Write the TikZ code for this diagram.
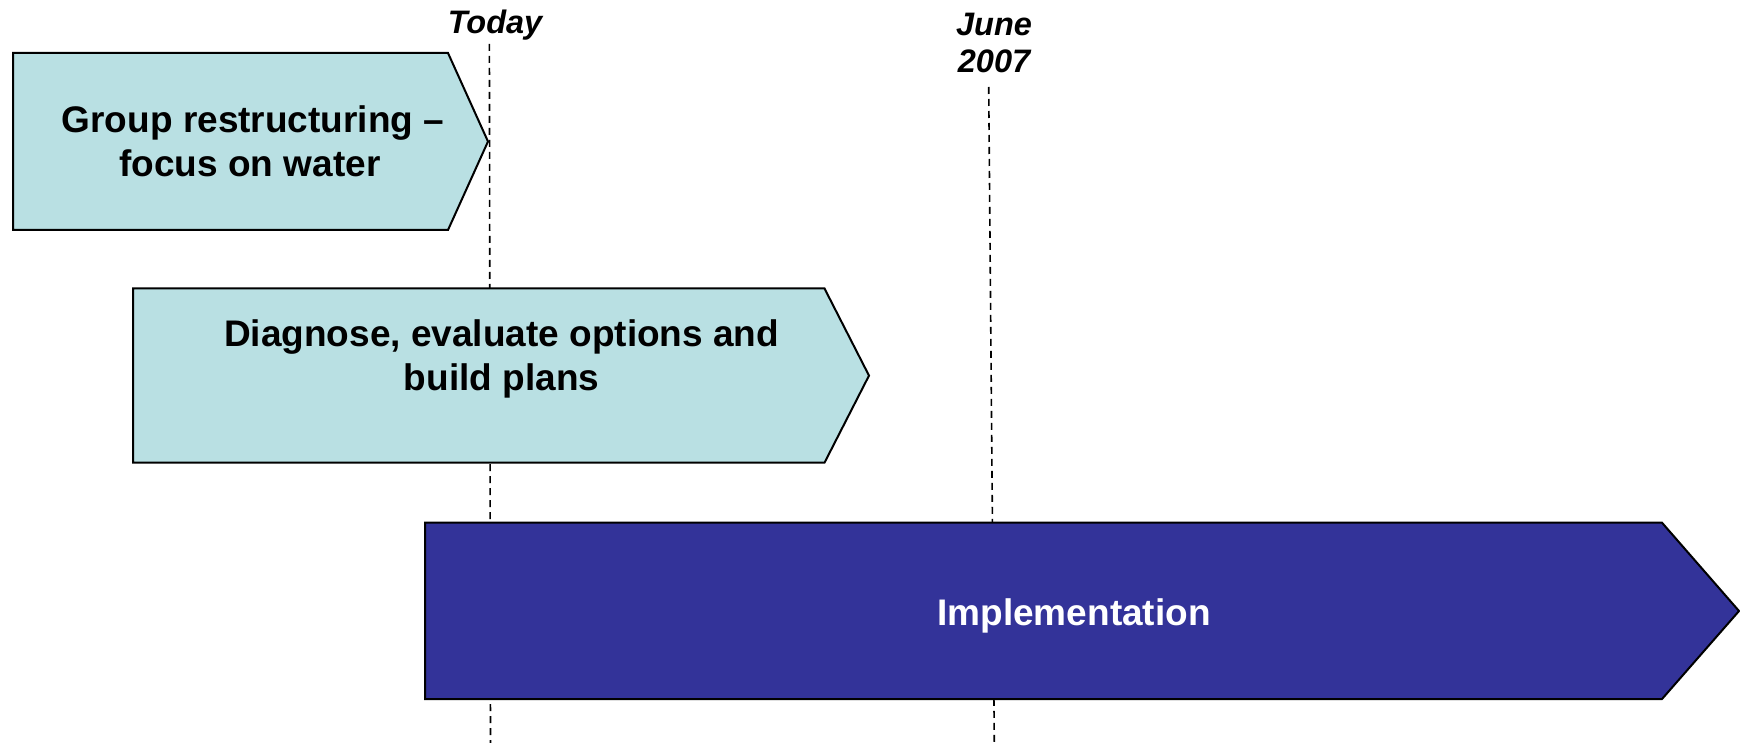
\documentclass[tikz,border=0pt]{standalone}
\usepackage{fontspec}
\setmainfont{Liberation Sans}
\definecolor{phaselight}{HTML}{B9E0E3}
\definecolor{phasedark}{HTML}{333399}
\begin{document}
\begin{tikzpicture}[x=1pt,y=-1pt,
  phase/.style={draw=black, line width=2pt, line join=miter},
  milestone/.style={draw=black, line width=1.6pt, dash pattern=on 7pt off 5pt},
  boxtext/.style={font=\fontsize{37}{44}\selectfont\bfseries, anchor=base, inner sep=0pt},
  datetext/.style={font=\fontsize{32.5}{36}\selectfont\bfseries\itshape, anchor=base, inner sep=0pt}]
\useasboundingbox (0,0) rectangle (1740,743);

% milestone guide lines
\coordinate (todayTop) at (489.4,44);
\coordinate (todayBot) at (490.5,743);
\coordinate (juneTop) at (988.7,87);
\coordinate (juneBot) at (994.3,743);
\draw[milestone] (todayTop) -- (todayBot);
\draw[milestone] (juneTop) -- (juneBot);

% milestone labels
\node[datetext] (today) at (495,34) {Today};
\node[datetext] (june) at (994,36) {June};
\node[datetext] (year) at (994,73) {2007};

% phase chevrons
\path[phase, fill=phaselight] (13,53) -- (448,53) -- (488,141.5) -- (448,230) -- (13,230) -- cycle;
\path[phase, fill=phaselight] (133,288.5) -- (824.5,288.5) -- (869,375.6) -- (824.5,462.7) -- (133,462.7) -- cycle;
\path[phase, fill=phasedark] (425,522.7) -- (1662,522.7) -- (1739,611) -- (1662,699) -- (425,699) -- cycle;

% phase labels
\node[boxtext] (restructA) at (253,133) {Group restructuring –};
\node[boxtext] (restructB) at (250,177) {focus on water};
\node[boxtext] (diagA) at (501.6,346) {Diagnose, evaluate options and};
\node[boxtext] (diagB) at (501.6,390) {build plans};
\node[boxtext, text=white] (impl) at (1074,625) {Implementation};
\end{tikzpicture}
\end{document}
